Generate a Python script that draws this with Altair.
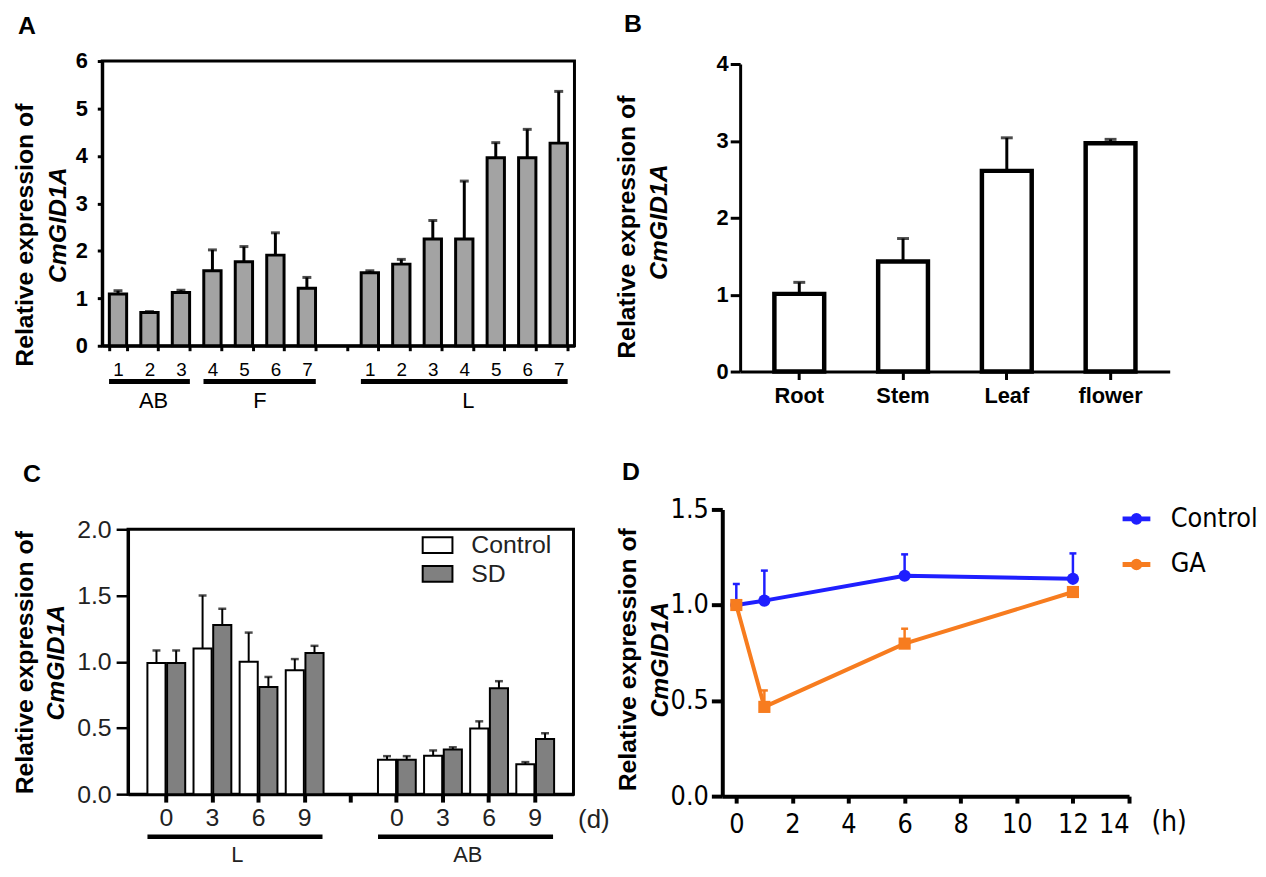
import altair as alt
import pandas as pd

FONT = "Liberation Sans"
NARROW = "Liberation Sans Narrow, DejaVu Sans Condensed, Liberation Sans"

# ---------------- Panel A data ----------------
a_slots = ["AB1", "AB2", "AB3", "F4", "F5", "F6", "F7", "gap",
           "L1", "L2", "L3", "L4", "L5", "L6", "L7"]
a_samples = ["AB1", "AB2", "AB3", "F4", "F5", "F6", "F7",
             "L1", "L2", "L3", "L4", "L5", "L6", "L7"]
a_mean = [1.09, 0.70, 1.12, 1.58, 1.77, 1.91, 1.21,
          1.54, 1.72, 2.25, 2.25, 3.96, 3.96, 4.27]
a_upper = [1.16, 0.72, 1.17, 2.02, 2.09, 2.38, 1.44,
           1.58, 1.82, 2.64, 3.47, 4.28, 4.56, 5.36]
a_groups = ["AB", "F", "L"]
a_group_first = ["AB1", "F4", "L1"]
a_group_last = ["AB3", "F7", "L7"]
# groups with an odd member count are labelled under their middle member
a_odd_groups = ["AB", "L"]
a_odd_label_at = ["AB2", "L4"]
# the F group (4 members) is labelled between F5 and F6
a_even_groups = ["F"]
a_even_label_at = ["F5"]

# ---------------- Panel B data ----------------
b_tissues = ["Root", "Stem", "Leaf", "flower"]
b_mean = [1.01, 1.43, 2.61, 2.97]
b_upper = [1.16, 1.73, 3.04, 3.02]

# ---------------- Panel C data ----------------
c_slots = ["L0", "L3", "L6", "L9", "gap", "AB0", "AB3", "AB6", "AB9"]
c_samples = ["L0", "L3", "L6", "L9", "AB0", "AB3", "AB6", "AB9"]
c_treatments = ["Control", "SD"]
c_control_mean = [0.99, 1.10, 1.00, 0.935, 0.26, 0.29, 0.496, 0.225]
c_control_upper = [1.085, 1.50, 1.22, 1.02, 0.287, 0.33, 0.55, 0.242]
c_sd_mean = [0.99, 1.277, 0.81, 1.065, 0.26, 0.337, 0.80, 0.416]
c_sd_upper = [1.085, 1.40, 0.885, 1.12, 0.287, 0.354, 0.853, 0.46]
c_groups = ["L", "AB"]
c_group_first = ["L0", "AB0"]
c_group_last = ["L9", "AB9"]
c_group_label_at = ["L3", "AB3"]

# ---------------- Panel D data ----------------
d_hours = [0, 1, 6, 12]
d_series = ["Control", "GA"]
d_control_mean = [1.0, 1.023, 1.153, 1.137]
d_control_upper = [1.11, 1.18, 1.265, 1.27]
d_ga_mean = [1.0, 0.467, 0.798, 1.068]
d_ga_upper = [1.02, 0.553, 0.876, 1.09]

TITLE_SIZE = 25


def y_main(title, tx, ty, values, fmt, lab_font, lab_size, lab_weight, lab_color,
           tick_size, tick_w, dom_w, lab_pad):
    return alt.Axis(orient="left", title=title, titleX=tx, titleY=ty,
                    titleBaseline="middle", titleAlign="center",
                    titleFont=FONT, titleFontSize=TITLE_SIZE, titleFontWeight="bold",
                    titleColor="black", values=values, format=fmt,
                    labelFont=lab_font, labelFontSize=lab_size,
                    labelFontWeight=lab_weight, labelColor=lab_color,
                    labelPadding=lab_pad, tickSize=tick_size, tickWidth=tick_w,
                    tickColor="black", domainWidth=dom_w, domainColor="black",
                    grid=False)


def y_second(title, tx, ty):
    return alt.Axis(orient="left", title=title, titleX=tx, titleY=ty,
                    titleBaseline="middle", titleAlign="center",
                    titleFont=FONT, titleFontSize=TITLE_SIZE, titleFontWeight="bold",
                    titleFontStyle="italic", titleColor="black",
                    labels=False, ticks=False, domain=False, grid=False)


def letter(t, dx, offset):
    return alt.TitleParams(text=t, anchor="start", frame="group", dx=dx,
                           offset=offset, baseline="alphabetic", font=FONT,
                           fontSize=25, fontWeight="bold", color="black")


def spacer():
    return alt.Chart(pd.DataFrame({"v": [0]})).mark_point(size=0, opacity=0).encode(
        x=alt.X("v:Q", axis=None), y=alt.Y("v:Q", axis=None)).properties(width=1, height=1)


IND = dict(color="independent")


def wrap(ch):
    # stacks an empty 1px spacer above a panel so panels in a row line up by their top edge
    return alt.vconcat(spacer(), ch, spacing=0).resolve_scale(**IND)


STRIP = "replace(datum.label, regexp('[A-Za-z]+', 'g'), '')"

# ================= Panel A =================
wA, hA = 476, 287
dfA = pd.DataFrame({"sample": a_samples, "mean": a_mean, "upper": a_upper})
dfAg = pd.DataFrame({"group": a_groups, "first": a_group_first, "last": a_group_last})
dfAodd = pd.DataFrame({"group": a_odd_groups, "label_at": a_odd_label_at})
dfAeven = pd.DataFrame({"group": a_even_groups, "label_at": a_even_label_at})
a_x = alt.Scale(domain=a_slots, paddingInner=0.45, paddingOuter=0.225)
a_y = alt.Scale(domain=[0, 6], nice=False)
a_xaxis = alt.Axis(orient="bottom", title=None, labelExpr=STRIP, labelAngle=0, labelFont=FONT,
                   labelFontSize=19, labelColor="black", labelPadding=10,
                   tickBand="extent", tickSize=5, tickWidth=3, tickColor="black",
                   domainWidth=3, domainColor="black", grid=False)

barsA = alt.Chart(dfA).mark_bar(fill="#a3a3a3", stroke="black", strokeWidth=3).encode(
    x=alt.X("sample:N", scale=a_x, axis=a_xaxis),
    y=alt.Y("mean:Q", scale=a_y,
            axis=y_main("Relative expression of", -78, 175, [0, 1, 2, 3, 4, 5, 6], "d",
                        FONT, 22, "bold", "black", 5, 3, 3, 10)),
)
errA = alt.Chart(dfA).mark_rule(color="black", strokeWidth=3).encode(
    x=alt.X("sample:N", scale=a_x, axis=a_xaxis),
    y=alt.Y("mean:Q", scale=a_y, axis=y_second("CmGID1A", -45, 165)),
    y2="upper:Q",
)
capA = alt.Chart(dfA).mark_tick(color="black", thickness=3, size=9, orient="horizontal").encode(
    x=alt.X("sample:N", scale=a_x, axis=a_xaxis),
    y=alt.Y("upper:Q", scale=a_y, axis=None),
)
ulA = alt.Chart(dfAg).mark_rule(color="black", strokeWidth=5, xOffset=-9, x2Offset=9).encode(
    x=alt.X("first:N", scale=a_x, axis=a_xaxis), x2="last:N", y=alt.value(hA + 36))
glA = alt.Chart(dfAodd).mark_text(font=FONT, fontSize=22, color="black", align="center", dx=4).encode(
    x=alt.X("label_at:N", scale=a_x, axis=a_xaxis), y=alt.value(hA + 56), text="group:N")
glA2 = alt.Chart(dfAeven).mark_text(font=FONT, fontSize=22, color="black", align="center", dx=16).encode(
    x=alt.X("label_at:N", scale=a_x, axis=a_xaxis), y=alt.value(hA + 56), text="group:N")

A = alt.layer(barsA, errA, capA, ulA, glA, glA2).resolve_axis(y="independent").properties(
    width=wA, height=hA, title=letter("A", -85, -9),
    view=alt.ViewBackground(stroke="black", strokeWidth=3))

# ================= Panel B =================
wB, hB = 433, 310
dfB = pd.DataFrame({"tissue": b_tissues, "mean": b_mean, "upper": b_upper})
b_x = alt.Scale(domain=b_tissues, paddingInner=0.52, paddingOuter=0.33)
b_y = alt.Scale(domain=[0, 4], nice=False)
b_xaxis = alt.Axis(orient="bottom", title=None, labelAngle=0, labelFont=FONT, labelFontSize=22,
                   labelFontWeight="bold", labelColor="black", labelPadding=6,
                   tickSize=8, tickWidth=3, tickColor="black",
                   domainWidth=3, domainColor="black", grid=False)

barsB = alt.Chart(dfB).mark_bar(fill="white", stroke="black", strokeWidth=4.5).encode(
    x=alt.X("tissue:N", scale=b_x, sort=None, axis=b_xaxis),
    y=alt.Y("mean:Q", scale=b_y,
            axis=y_main("Relative expression of", -114, 164, [0, 1, 2, 3, 4], "d",
                        FONT, 22, "bold", "black", 10, 3, 3, 2)),
)
errB = alt.Chart(dfB).mark_rule(color="black", strokeWidth=3).encode(
    x=alt.X("tissue:N", scale=b_x, sort=None, axis=b_xaxis),
    y=alt.Y("mean:Q", scale=b_y, axis=y_second("CmGID1A", -82, 159)),
    y2="upper:Q",
)
capB = alt.Chart(dfB).mark_tick(color="black", thickness=3, size=12, orient="horizontal").encode(
    x=alt.X("tissue:N", scale=b_x, sort=None, axis=b_xaxis),
    y=alt.Y("upper:Q", scale=b_y, axis=None),
)
B = alt.layer(barsB, errB, capB).resolve_axis(y="independent").properties(
    width=wB, height=hB, title=letter("B", -117, -4))

# ================= Panel C =================
wC, hC = 449, 267
rows = []
for s, m, u in zip(c_samples, c_control_mean, c_control_upper):
    rows.append({"sample": s, "treatment": "Control", "mean": m, "upper": u})
for s, m, u in zip(c_samples, c_sd_mean, c_sd_upper):
    rows.append({"sample": s, "treatment": "SD", "mean": m, "upper": u})
dfC = pd.DataFrame(rows)
dfCg = pd.DataFrame({"group": c_groups, "first": c_group_first,
                     "last": c_group_last, "label_at": c_group_label_at})
c_x = alt.Scale(domain=c_slots, paddingInner=0.18, paddingOuter=0.42)
c_y = alt.Scale(domain=[0, 2], nice=False)
c_off = alt.XOffset("treatment:N", scale=alt.Scale(domain=c_treatments, paddingInner=0.08))
c_color = alt.Color("treatment:N", scale=alt.Scale(domain=c_treatments, range=["white", "#808080"]),
                    legend=alt.Legend(title=None, orient="none", legendX=296, legendY=0,
                                      symbolType="M-1,-0.53H1V0.53H-1Z", symbolSize=900,
                                      symbolStrokeColor="black", symbolStrokeWidth=2,
                                      symbolOpacity=1,
                                      labelFont=FONT, labelFontSize=25, labelColor="#222222",
                                      labelOffset=18, rowPadding=-5))
c_xaxis = alt.Axis(orient="bottom", title="(d)", titleX=469, titleY=26, titleAlign="center",
                   titleBaseline="middle", titleFont=FONT, titleFontSize=26,
                   titleFontWeight="normal", titleColor="#222222",
                   labelExpr=STRIP, labelAngle=0, labelFont=FONT,
                   labelFontSize=25, labelColor="#222222", labelPadding=4,
                   tickSize=8, tickWidth=4, tickColor="black",
                   domainWidth=3, domainColor="black", grid=False)

barsC = alt.Chart(dfC).mark_bar(stroke="black", strokeWidth=2).encode(
    x=alt.X("sample:N", scale=c_x, axis=c_xaxis),
    xOffset=c_off,
    y=alt.Y("mean:Q", scale=c_y,
            axis=y_main("Relative expression of", -104, 134, [0, 0.5, 1, 1.5, 2], ".1f",
                        FONT, 25, "normal", "#222222", 12, 2.5, 3, 5)),
    color=c_color,
)
errC = alt.Chart(dfC).mark_rule(color="black", strokeWidth=2).encode(
    x=alt.X("sample:N", scale=c_x, axis=c_xaxis),
    xOffset=c_off,
    y=alt.Y("mean:Q", scale=c_y, axis=y_second("CmGID1A", -73, 134)),
    y2="upper:Q",
)
capC = alt.Chart(dfC).mark_tick(color="black", thickness=2.5, size=8, orient="horizontal").encode(
    x=alt.X("sample:N", scale=c_x, axis=c_xaxis),
    xOffset=c_off,
    y=alt.Y("upper:Q", scale=c_y, axis=None),
)
ulC = alt.Chart(dfCg).mark_rule(color="black", strokeWidth=4.5, xOffset=-19, x2Offset=18).encode(
    x=alt.X("first:N", scale=c_x, axis=c_xaxis), x2="last:N", y=alt.value(hC + 43))
glC = alt.Chart(dfCg).mark_text(font=FONT, fontSize=22, color="#222222", align="center", dx=25).encode(
    x=alt.X("label_at:N", scale=c_x, axis=c_xaxis), y=alt.value(hC + 61), text="group:N")

C = alt.layer(barsC, errC, capC, ulC, glC).resolve_axis(y="independent").properties(
    width=wC, height=hC, title=letter("C", -106, 11),
    view=alt.ViewBackground(stroke="black", strokeWidth=3))

# ================= Panel D =================
wD, hD = 410, 289
rows = []
for h, m, u in zip(d_hours, d_control_mean, d_control_upper):
    rows.append({"hour": h, "series": "Control", "mean": m, "upper": u})
for h, m, u in zip(d_hours, d_ga_mean, d_ga_upper):
    rows.append({"hour": h, "series": "GA", "mean": m, "upper": u})
dfD = pd.DataFrame(rows)
d_x = alt.Scale(domain=[-0.5, 14], nice=False, zero=False)
d_y = alt.Scale(domain=[0, 1.5], nice=False)
d_colors = alt.Scale(domain=d_series, range=["#1f1fff", "#f77c1f"])
# legend glyph: a short line with a marker in the middle
LINE_MARK = "M-1,0H1M-0.24,0A0.24,0.24 0 1,0 0.24,0A0.24,0.24 0 1,0 -0.24,0Z"

legD = alt.Legend(title=None, orient="none", legendX=401, legendY=-7,
                  symbolType=LINE_MARK, symbolSize=784, symbolStrokeWidth=5,
                  symbolOpacity=1,
                  labelFont=NARROW, labelFontSize=27, labelColor="black",
                  labelOffset=18, rowPadding=16)
d_xaxis = alt.Axis(orient="bottom", title="(h)", titleX=450, titleY=27, titleAlign="center",
                   titleBaseline="middle", titleFont=NARROW, titleFontSize=28,
                   titleFontWeight="normal", titleColor="black",
                   values=[0, 2, 4, 6, 8, 10, 12, 14], format="d",
                   labelFont=NARROW, labelFontSize=27, labelColor="black",
                   labelPadding=9, tickSize=7, tickWidth=4, tickColor="black",
                   domainWidth=4, domainColor="black", grid=False)

lineD = alt.Chart(dfD).mark_line(strokeWidth=4, opacity=1).encode(
    x=alt.X("hour:Q", scale=d_x, axis=d_xaxis),
    y=alt.Y("mean:Q", scale=d_y,
            axis=y_main("Relative expression of", -95, 151, [0, 0.5, 1, 1.5], ".1f",
                        NARROW, 27, "normal", "black", 11, 4, 4, 3)),
    color=alt.Color("series:N", scale=d_colors, legend=legD),
)
errD = alt.Chart(dfD).mark_rule(strokeWidth=2.5, opacity=1).encode(
    x=alt.X("hour:Q", scale=d_x, axis=d_xaxis),
    y=alt.Y("mean:Q", scale=d_y, axis=y_second("CmGID1A", -63, 151)),
    y2="upper:Q",
    color=alt.Color("series:N", scale=d_colors, legend=legD),
)
capD = alt.Chart(dfD).mark_tick(thickness=2.5, size=7, orient="horizontal", opacity=1).encode(
    x=alt.X("hour:Q", scale=d_x, axis=d_xaxis),
    y=alt.Y("upper:Q", scale=d_y, axis=None),
    color=alt.Color("series:N", scale=d_colors, legend=legD),
)
ptsCtrl = alt.Chart(dfD).transform_filter("datum.series == 'Control'").mark_point(
    filled=True, size=150, opacity=1, shape="circle").encode(
    x=alt.X("hour:Q", scale=d_x, axis=d_xaxis),
    y=alt.Y("mean:Q", scale=d_y, axis=None),
    color=alt.Color("series:N", scale=d_colors, legend=legD),
)
ptsGA = alt.Chart(dfD).transform_filter("datum.series == 'GA'").mark_point(
    filled=True, size=150, opacity=1, shape="square").encode(
    x=alt.X("hour:Q", scale=d_x, axis=d_xaxis),
    y=alt.Y("mean:Q", scale=d_y, axis=None),
    color=alt.Color("series:N", scale=d_colors, legend=legD),
)
D = alt.layer(lineD, errD, capD, ptsCtrl, ptsGA).resolve_axis(y="independent").properties(
    width=wD, height=hD, title=letter("D", -101, -9))

top = alt.hconcat(spacer(), alt.hconcat(wrap(A), wrap(B), spacing=38).resolve_scale(**IND),
                  spacing=0).resolve_scale(**IND)
bottom = alt.hconcat(spacer(), alt.hconcat(wrap(C), wrap(D), spacing=5).resolve_scale(**IND),
                     spacing=0).resolve_scale(**IND)
chart = alt.vconcat(top, bottom, spacing=45).resolve_scale(**IND).properties(
    padding={"left": 2, "top": 0, "right": 0, "bottom": 0}, background="white"
).configure_view(strokeWidth=0)

chart.save("out.html", embed_options={"renderer": "svg", "actions": False})
